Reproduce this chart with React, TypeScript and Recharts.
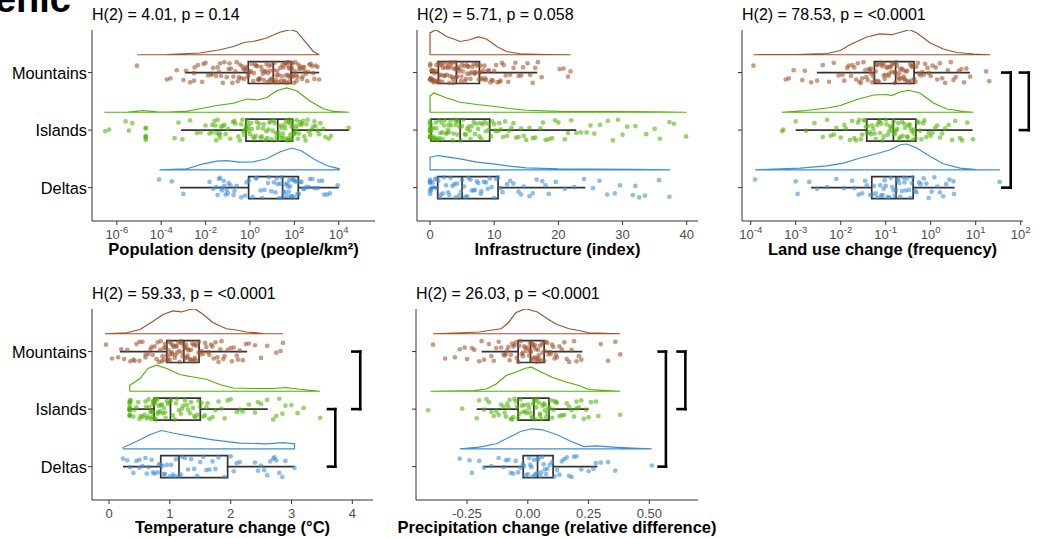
import React from 'react';
import { ComposedChart, XAxis, YAxis, Scatter, ReferenceArea, ReferenceLine } from 'recharts';

const FONT = '"Liberation Sans", Arial, Helvetica, sans-serif';

const groupNames = ['Mountains', 'Islands', 'Deltas'];
const groupRows = [3, 2, 1];
const groupColors = ['#A0522D', '#4DB400', '#3B8ED8'];

// hand-set jitter offsets (rows), reused for every group
const jitter = [0.12, -0.08, 0.03, -0.15, 0.17, -0.02, 0.09, -0.12, 0.06, -0.17, 0.14, -0.05, 0.01, 0.16, -0.1, 0.07, -0.14, 0.11, -0.04, 0.15, -0.18, 0.04, -0.07, 0.13, -0.11, 0.08, -0.01, 0.18, -0.13, 0.02, -0.16, 0.1, -0.06];

// ---- Population density ----
const popTicks = [1e-6, 1e-4, 1e-2, 1, 1e2, 1e4];
const popPoints = [
  [8e-6, 1.8e-4, 2.6e-4, 5e-4, 1e-3, 1.3e-3, 2e-3, 3e-3, 4.5e-3, 7e-3, 0.01, 0.013, 0.018, 0.022, 0.03, 0.035, 0.045, 0.06, 0.07, 0.09, 0.11, 0.14, 0.18, 0.22, 0.28, 0.35, 0.45, 0.55, 0.7, 0.85, 1, 1.2, 1.5, 1.9, 2.3, 2.8, 3.5, 4.2, 5, 6, 7.5, 9, 11, 13, 16, 19, 23, 27, 32, 38, 45, 52, 60, 68, 78, 90, 105, 125, 150, 180, 220, 270, 330, 420, 550, 700, 900, 1300, 0.4, 0.6, 2.5, 8, 14, 35, 48, 58, 75, 85, 120, 250, 0.05, 3.2e-3,
    0.12, 0.16, 0.25, 0.32, 0.5, 0.65, 0.8, 1.1, 1.4, 1.7, 2.1, 2.6, 3.2, 3.8, 4.6, 5.5, 6.5, 7, 8.5, 10, 12, 15, 17, 20, 25, 29, 34, 40, 42, 50, 55, 65, 72, 82, 95, 110, 140, 165, 200, 240, 300, 380, 480, 620, 800, 1100, 0.02, 0.04, 0.008, 0.003],
  [3e-7, 4.5e-7, 2.5e-6, 3.5e-6, 5e-6, 2e-5, 2e-5, 2e-5, 2e-5, 2e-5, 2e-5, 4e-4, 6e-4, 9e-4, 2e-3, 4e-3, 6e-3, 0.01, 0.015, 0.02, 0.025, 0.03, 0.035, 0.04, 0.05, 0.06, 0.08, 0.1, 0.13, 0.17, 0.22, 0.3, 0.4, 0.5, 0.6, 0.75, 0.9, 1.1, 1.4, 1.8, 2.3, 3, 3.8, 4.8, 6, 7.5, 9.5, 12, 15, 19, 24, 30, 36, 42, 50, 58, 66, 75, 85, 100, 120, 145, 180, 220, 280, 350, 450, 600, 800, 1100, 1500, 2500, 4500, 2.8e4, 0.045, 0.7, 17, 27, 55, 70, 130, 0.032,
    0.02, 0.028, 0.045, 0.07, 0.2, 0.35, 0.45, 0.55, 0.65, 0.85, 1, 1.2, 1.6, 2, 2.6, 3.4, 4.2, 5.5, 6.8, 8.5, 10.5, 13, 16, 21, 26, 33, 38, 45, 53, 62, 70, 80, 95, 110, 130, 160, 200, 250, 320, 400, 520, 700, 900, 1300, 2000, 3500],
  [8e-5, 3e-4, 1e-3, 0.015, 0.022, 0.03, 0.04, 0.05, 0.065, 0.08, 0.1, 0.13, 0.18, 0.25, 0.4, 0.6, 0.9, 1.3, 2, 3, 4.5, 6.5, 9, 12, 16, 21, 27, 33, 40, 48, 56, 65, 75, 90, 110, 140, 180, 250, 350, 500, 800, 1300, 2200, 4000, 9000, 0.035, 0.07, 30, 45, 60, 100,
    0.045, 0.055, 0.09, 0.11, 0.2, 0.7, 1.8, 3.5, 7, 14, 18, 24, 36, 52, 70, 85, 120, 160, 210, 280, 450, 650, 1100, 1800, 3000],
];
const popDensity = [
  [[8.3e-6, 0], [1.8e-4, 0.01], [5.6e-3, 0.07], [0.045, 0.2], [0.18, 0.33], [0.59, 0.5], [1.4, 0.53], [5.6, 0.67], [22, 0.9], [63, 1.0], [126, 0.93], [300, 0.53], [710, 0.13], [1320, 0]],
  [[2.75e-7, 0], [3.2e-6, 0.01], [1.6e-5, 0.07], [6.3e-5, 0.02], [1.8e-4, 0.01], [1.4e-3, 0.04], [5.6e-3, 0.14], [0.032, 0.27], [0.18, 0.36], [0.71, 0.53], [2, 0.49], [5.6, 0.58], [16, 0.86], [45, 0.97], [126, 0.86], [500, 0.45], [2000, 0.14], [5600, 0.04], [2.95e4, 0]],
  [[8.3e-5, 0], [1.4e-3, 0.04], [7.9e-3, 0.24], [0.032, 0.35], [0.089, 0.37], [0.35, 0.31], [1.4, 0.32], [5.6, 0.44], [22, 0.71], [76, 0.87], [214, 0.75], [710, 0.44], [2800, 0.17], [1.05e4, 0.04], [1.05e4, 0]],
];
const popBoxes = [
  [1.17e-3, 0.84, 11.2, 71, 1320],
  [7.8e-4, 0.66, 17.8, 83, 2.95e4],
  [7.1e-4, 0.87, 29.5, 151, 1.02e4],
];

// ---- Infrastructure ----
const infTicks = [0, 10, 20, 30, 40];
const infPoints = [
  [0, 0, 0.1, 0.2, 0.3, 0.5, 0.6, 0.8, 1, 1.1, 1.3, 1.5, 1.7, 2, 2.2, 2.4, 2.7, 3, 3.2, 3.5, 3.8, 4, 4.2, 4.5, 4.8, 5, 5.3, 5.6, 6, 6.2, 6.5, 6.8, 7, 7.3, 7.6, 8, 8.3, 8.7, 9, 9.4, 9.8, 10.3, 10.8, 11.2, 11.8, 12.5, 13, 13.8, 14.5, 15.2, 16, 16.8, 17.4, 20.2, 20.8, 21.5, 21.9, 0.4, 1.8, 2.9, 3.6, 4.4, 5.8, 7.8, 0.05, 0.7, 8.5,
    0, 0.15, 0.35, 0.55, 0.9, 1.2, 1.4, 1.6, 1.9, 2.1, 2.3, 2.6, 2.8, 3.1, 3.3, 3.4, 3.7, 3.9, 4.1, 4.3, 4.6, 4.9, 5.1, 5.4, 5.7, 5.9, 6.3, 6.6, 6.9, 7.1, 7.4, 7.7, 7.9, 8.2, 8.6, 9.2, 9.6, 10, 10.5, 11, 11.5, 12.2, 13.3, 14.2, 15.6, 16.4],
  [0, 0, 0, 0, 0, 0, 0.3, 0.5, 0.8, 1, 1.2, 1.5, 1.8, 2, 2.3, 2.6, 3, 3.3, 3.7, 4, 4.4, 4.8, 5.2, 5.6, 6, 6.5, 7, 7.5, 8, 8.5, 9, 9.5, 10, 10.5, 11, 11.7, 12.3, 13, 13.8, 14.6, 15.5, 16.4, 17.2, 18, 19, 20, 21, 22, 22.8, 24.4, 25, 25.6, 26.5, 27.7, 28.5, 29.3, 30, 30.7, 32, 33.7, 35, 35.8, 37.3, 38, 39.9, 0.1, 0.2, 2.8, 4.2, 6.2, 7.8,
    0, 0, 0, 0, 0.15, 0.4, 0.6, 0.9, 1.1, 1.4, 1.6, 1.9, 2.2, 2.5, 2.9, 3.2, 3.5, 3.9, 4.3, 4.6, 5, 5.4, 5.8, 6.3, 6.8, 7.2, 7.7, 8.2, 8.7, 9.2, 9.7, 10.2, 10.8, 11.4, 12, 12.7, 13.4, 14.2, 15, 16, 17.6, 18.5, 19.5, 21.5, 23.5],
  [0, 0, 0, 0, 0.2, 0.5, 0.8, 1, 1.3, 1.7, 2, 2.5, 3, 3.5, 4, 4.5, 5, 5.5, 6, 6.5, 7, 7.5, 8, 8.7, 9.3, 10, 10.6, 11.3, 12, 13, 13.8, 14.6, 15.5, 16.6, 17.5, 18.5, 19.6, 21, 22.5, 24, 25.4, 26.4, 27.6, 28.8, 29.6, 31.6, 32, 32.6, 33.5, 35.7, 37.3, 3.2, 6.8,
    0, 0, 0.1, 0.4, 1.1, 1.5, 2.2, 2.8, 3.8, 4.2, 4.8, 5.3, 5.8, 6.3, 7.3, 7.9, 8.4, 9, 9.6, 10.3, 11, 12.5, 14.2, 16, 18],
];
const infDensity = [
  [[0, 0], [0, 0.87], [0.9, 1.0], [2.6, 0.73], [4.7, 0.53], [6.2, 0.6], [7.5, 0.71], [8.8, 0.63], [10.4, 0.33], [11.9, 0.13], [14, 0.04], [18, 0.01], [21.9, 0]],
  [[0, 0], [0, 0.65], [0.6, 0.77], [2.6, 0.57], [4.7, 0.4], [7.3, 0.31], [9.8, 0.24], [12.4, 0.15], [15, 0.08], [20, 0.04], [28, 0.025], [35, 0.015], [40, 0]],
  [[0, 0], [0, 0.5], [1.3, 0.57], [4.7, 0.44], [7.3, 0.31], [9.8, 0.24], [12.4, 0.15], [15, 0.08], [20, 0.04], [25, 0.03], [32, 0.02], [37.4, 0]],
];
const infBoxes = [
  [0, 1.3, 4.1, 7.7, 16.7],
  [0, 0.15, 4.7, 9.3, 22.8],
  [0, 1.2, 5.0, 10.6, 24.2],
];

// ---- Land use change ----
const lucTicks = [1e-4, 1e-3, 1e-2, 1e-1, 1, 10, 100];
const lucPoints = [
  [1.15e-4, 6e-4, 7e-4, 9e-4, 1.4e-3, 1.6e-3, 2.2e-3, 3e-3, 4e-3, 5.5e-3, 7e-3, 9e-3, 0.011, 0.014, 0.017, 0.02, 0.024, 0.028, 0.032, 0.037, 0.042, 0.047, 0.053, 0.06, 0.067, 0.075, 0.085, 0.095, 0.11, 0.12, 0.135, 0.15, 0.165, 0.18, 0.2, 0.22, 0.245, 0.27, 0.3, 0.33, 0.37, 0.41, 0.46, 0.52, 0.6, 0.7, 0.85, 1, 1.3, 1.6, 2.1, 2.8, 3.6, 4.8, 6.2, 7.5, 17, 20, 0.064, 0.13, 0.26, 0.38, 0.048, 0.155, 0.09, 0.2,
    0.015, 0.022, 0.03, 0.035, 0.04, 0.045, 0.05, 0.058, 0.063, 0.07, 0.08, 0.09, 0.1, 0.105, 0.115, 0.125, 0.14, 0.16, 0.17, 0.19, 0.21, 0.23, 0.25, 0.28, 0.31, 0.35, 0.39, 0.43, 0.48, 0.55, 0.65, 0.75, 0.9, 1.1, 1.4, 1.8, 2.4, 3.2, 4.2, 5.5, 0.012, 0.018, 0.026],
  [5e-4, 5.3e-4, 1e-3, 1.7e-3, 2.6e-3, 4e-3, 6e-3, 8e-3, 0.01, 0.013, 0.016, 0.02, 0.024, 0.028, 0.033, 0.038, 0.044, 0.05, 0.057, 0.065, 0.075, 0.085, 0.1, 0.11, 0.125, 0.14, 0.16, 0.18, 0.2, 0.23, 0.26, 0.3, 0.34, 0.38, 0.43, 0.5, 0.58, 0.68, 0.8, 1, 1.25, 1.6, 2.1, 3, 4.5, 6.5, 8.7, 0.035, 0.075, 0.15, 0.32, 0.42,
    0.012, 0.018, 0.022, 0.026, 0.03, 0.036, 0.04, 0.047, 0.053, 0.06, 0.07, 0.08, 0.09, 0.105, 0.12, 0.135, 0.15, 0.17, 0.19, 0.21, 0.24, 0.27, 0.31, 0.36, 0.4, 0.46, 0.54, 0.62, 0.72, 0.9, 1.1, 1.4, 1.8, 2.5, 3.5, 5, 0.005, 0.007],
  [1.25e-4, 1e-3, 1.1e-3, 2e-3, 3e-3, 5e-3, 8e-3, 0.012, 0.018, 0.025, 0.03, 0.038, 0.045, 0.055, 0.065, 0.08, 0.095, 0.11, 0.13, 0.15, 0.17, 0.2, 0.23, 0.26, 0.3, 0.35, 0.4, 0.48, 0.6, 0.8, 1.05, 1.4, 1.9, 2.6, 3.2, 3.3, 34, 0.09, 0.14, 0.19,
    0.02, 0.035, 0.05, 0.06, 0.075, 0.085, 0.1, 0.12, 0.16, 0.18, 0.21, 0.25, 0.28, 0.33, 0.38, 0.45, 0.55, 0.7, 0.9, 1.2, 1.6, 2.2],
];
const lucDensity = [
  [[1.15e-4, 0], [1e-3, 0.01], [5e-3, 0.05], [9.8e-3, 0.17], [0.016, 0.4], [0.038, 0.71], [0.074, 0.83], [0.135, 0.8], [0.245, 0.93], [0.34, 1.0], [0.49, 0.87], [0.98, 0.47], [1.9, 0.23], [3.8, 0.09], [8.9, 0.03], [20.9, 0]],
  [[4.9e-4, 0], [1.74e-3, 0.07], [4.9e-3, 0.17], [9.8e-3, 0.27], [0.023, 0.51], [0.054, 0.69], [0.105, 0.71], [0.135, 0.67], [0.21, 0.81], [0.32, 0.88], [0.575, 0.77], [1.15, 0.37], [2.3, 0.13], [5.4, 0.03], [8.9, 0]],
  [[1.26e-4, 0], [1.26e-3, 0.07], [4.9e-3, 0.16], [0.0115, 0.27], [0.027, 0.47], [0.063, 0.64], [0.126, 0.8], [0.21, 1.0], [0.295, 1.03], [0.49, 0.87], [0.98, 0.53], [1.9, 0.24], [4.5, 0.07], [10.5, 0.01], [34.7, 0]],
];
const lucBoxes = [
  [2.95e-3, 0.056, 0.166, 0.427, 7.4],
  [1e-3, 0.038, 0.148, 0.468, 8.5],
  [2.2e-3, 0.049, 0.17, 0.407, 3.4],
];
const lucBrackets = [
  { from: 0, to: 2, x0: 39, x1: 60 },
  { from: 0, to: 1, x0: 96, x1: 151 },
];

// ---- Temperature change ----
const tmpTicks = [0, 1, 2, 3, 4];
const tmpPoints = [
  [-0.05, 0.05, 0.15, 0.2, 0.25, 0.3, 0.35, 0.4, 0.45, 0.5, 0.55, 0.6, 0.65, 0.7, 0.72, 0.75, 0.8, 0.82, 0.85, 0.88, 0.9, 0.93, 0.95, 0.98, 1, 1.02, 1.05, 1.08, 1.1, 1.12, 1.15, 1.18, 1.2, 1.22, 1.25, 1.28, 1.3, 1.33, 1.35, 1.38, 1.4, 1.42, 1.45, 1.48, 1.5, 1.55, 1.6, 1.65, 1.7, 1.75, 1.8, 1.85, 1.9, 2, 2.05, 2.1, 2.15, 2.2, 2.3, 2.4, 2.5, 2.6, 2.75, 2.82, 2.86, 1.03, 1.27, 0.97,
    0.6, 0.68, 0.78, 0.84, 0.87, 0.9, 0.92, 0.96, 0.99, 1.01, 1.04, 1.06, 1.09, 1.11, 1.14, 1.16, 1.19, 1.21, 1.24, 1.26, 1.29, 1.31, 1.34, 1.37, 1.39, 1.41, 1.44, 1.47, 1.52, 1.58, 1.63, 1.68, 1.72, 1.78, 1.83, 1.88, 1.95, 2.02, 2.12, 2.25, 0.42, 0.5],
  [0.34, 0.34, 0.34, 0.34, 0.34, 0.34, 0.34, 0.34, 0.4, 0.45, 0.5, 0.55, 0.6, 0.62, 0.65, 0.68, 0.7, 0.72, 0.72, 0.74, 0.75, 0.77, 0.78, 0.8, 0.82, 0.85, 0.88, 0.9, 0.93, 0.95, 1, 1.05, 1.1, 1.15, 1.2, 1.25, 1.3, 1.35, 1.4, 1.45, 1.5, 1.55, 1.6, 1.65, 1.7, 1.8, 1.9, 2, 2.1, 2.2, 2.3, 2.4, 2.5, 2.6, 2.7, 2.8, 2.85, 2.9, 3.0, 3.1, 3.2, 3.47, 0.73, 0.76,
    0.34, 0.34, 0.34, 0.34, 0.36, 0.42, 0.48, 0.52, 0.58, 0.61, 0.64, 0.66, 0.69, 0.71, 0.73, 0.75, 0.79, 0.81, 0.84, 0.87, 0.92, 0.97, 1.02, 1.08, 1.12, 1.18, 1.22, 1.28, 1.33, 1.38, 1.42, 1.47, 1.52, 1.58, 1.62, 1.75, 1.85, 1.95, 2.15, 2.45, 2.75],
  [0.23, 0.3, 0.4, 0.45, 0.5, 0.55, 0.6, 0.65, 0.7, 0.75, 0.8, 0.85, 0.9, 0.95, 1, 1.05, 1.1, 1.15, 1.2, 1.3, 1.4, 1.5, 1.6, 1.7, 1.8, 1.9, 2, 2.05, 2.1, 2.4, 2.45, 2.5, 2.6, 2.7, 2.75, 2.8, 2.9, 3.05, 0.88, 1.25,
    0.35, 0.5, 0.62, 0.72, 0.82, 0.92, 1.02, 1.08, 1.18, 1.35, 1.45, 1.55, 1.65, 1.75, 2.15, 2.55, 2.65, 2.72, 2.85],
];
const tmpDensity = [
  [[-0.07, 0], [0.29, 0.04], [0.51, 0.17], [0.73, 0.51], [0.89, 0.77], [1.05, 0.91], [1.19, 0.87], [1.3, 0.95], [1.41, 1.0], [1.55, 0.77], [1.71, 0.44], [1.93, 0.2], [2.09, 0.15], [2.26, 0.07], [2.53, 0.01], [2.86, 0]],
  [[0.34, 0], [0.34, 0.24], [0.51, 0.51], [0.64, 0.91], [0.78, 1.04], [0.95, 0.91], [1.16, 0.67], [1.38, 0.57], [1.6, 0.48], [1.82, 0.27], [2.04, 0.13], [2.37, 0.11], [2.69, 0.11], [2.91, 0.15], [3.13, 0.08], [3.47, 0]],
  [[0.23, 0], [0.23, 0.05], [0.45, 0.29], [0.67, 0.56], [0.86, 0.73], [1.05, 0.63], [1.38, 0.49], [1.71, 0.36], [2.15, 0.23], [2.58, 0.2], [2.86, 0.25], [3.05, 0.2], [3.05, 0]],
];
const tmpBoxes = [
  [0.18, 0.95, 1.23, 1.48, 2.27],
  [0.34, 0.74, 1.01, 1.5, 2.61],
  [0.23, 0.85, 1.15, 1.95, 3.05],
];
const tmpBrackets = [
  { from: 0, to: 1, x0: 4.0, x1: 4.13 },
  { from: 1, to: 2, x0: 3.6, x1: 3.72 },
];

// ---- Precipitation change ----
const preTicks = [-0.25, 0, 0.25, 0.5];
const prePoints = [
  [-0.39, -0.34, -0.3, -0.28, -0.25, -0.22, -0.2, -0.18, -0.16, -0.14, -0.12, -0.1, -0.09, -0.08, -0.07, -0.06, -0.05, -0.04, -0.03, -0.02, -0.01, 0, 0.005, 0.01, 0.015, 0.02, 0.03, 0.04, 0.05, 0.06, 0.07, 0.08, 0.09, 0.1, 0.11, 0.12, 0.14, 0.16, 0.18, 0.2, 0.22, 0.3, 0.33, 0.36, 0.38, -0.025, 0.025, 0.045, -0.015, 0.065, 0.035,
    -0.19, -0.15, -0.13, -0.11, -0.095, -0.085, -0.075, -0.065, -0.055, -0.045, -0.035, -0.02, -0.005, 0.008, 0.012, 0.018, 0.022, 0.028, 0.033, 0.038, 0.042, 0.048, 0.052, 0.058, 0.068, 0.075, 0.085, 0.095, 0.105, 0.115, 0.13, 0.15, 0.17, 0.19, 0.21, -0.23, -0.26],
  [-0.41, -0.27, -0.2, -0.18, -0.16, -0.14, -0.12, -0.1, -0.09, -0.08, -0.07, -0.06, -0.05, -0.04, -0.03, -0.02, -0.01, 0, 0.01, 0.02, 0.025, 0.03, 0.04, 0.05, 0.06, 0.07, 0.08, 0.09, 0.1, 0.11, 0.12, 0.14, 0.16, 0.18, 0.2, 0.22, 0.24, 0.26, 0.29, 0.38, -0.045, 0.015, 0.035, 0.055, 0.075, 0.2,
    -0.21, -0.17, -0.15, -0.13, -0.11, -0.095, -0.085, -0.075, -0.065, -0.055, -0.035, -0.025, -0.015, -0.005, 0.005, 0.02, 0.03, 0.045, 0.05, 0.065, 0.07, 0.085, 0.095, 0.105, 0.115, 0.13, 0.15, 0.17, 0.19, 0.21, 0.23, 0.25, 0.28],
  [-0.28, -0.24, -0.23, -0.2, -0.18, -0.15, -0.12, -0.1, -0.08, -0.06, -0.04, -0.02, 0, 0.01, 0.02, 0.03, 0.04, 0.05, 0.06, 0.07, 0.08, 0.1, 0.12, 0.14, 0.16, 0.18, 0.2, 0.25, 0.28, 0.3, 0.36, 0.51, -0.01, 0.045,
    -0.09, -0.07, -0.05, -0.03, -0.015, 0.005, 0.015, 0.025, 0.035, 0.055, 0.065, 0.075, 0.09, 0.11, 0.13, 0.15, 0.17, 0.19, 0.22, 0.27, 0.33],
];
const preDensity = [
  [[-0.39, 0], [-0.27, 0.04], [-0.2, 0.07], [-0.16, 0.13], [-0.11, 0.2], [-0.08, 0.44], [-0.05, 0.84], [-0.01, 1.0], [0.04, 0.87], [0.08, 0.6], [0.12, 0.37], [0.17, 0.2], [0.21, 0.13], [0.25, 0.04], [0.38, 0]],
  [[-0.4, 0], [-0.22, 0.03], [-0.17, 0.09], [-0.13, 0.29], [-0.09, 0.63], [-0.05, 0.76], [-0.01, 0.92], [0.015, 0.96], [0.05, 0.79], [0.1, 0.56], [0.16, 0.36], [0.21, 0.23], [0.25, 0.07], [0.38, 0]],
  [[-0.28, 0], [-0.2, 0.07], [-0.13, 0.2], [-0.07, 0.49], [-0.03, 0.69], [0.015, 0.8], [0.06, 0.76], [0.12, 0.56], [0.17, 0.33], [0.23, 0.09], [0.28, 0.12], [0.35, 0.07], [0.43, 0.03], [0.51, 0]],
];
const preBoxes = [
  [-0.19, -0.04, 0.011, 0.067, 0.224],
  [-0.21, -0.04, 0.025, 0.087, 0.25],
  [-0.183, -0.019, 0.04, 0.104, 0.286],
];
const preBrackets = [
  { from: 0, to: 2, x0: 0.538, x1: 0.568 },
  { from: 0, to: 1, x0: 0.616, x1: 0.648 },
];

type Bracket = { from: number; to: number; x0: number; x1: number };
type PanelDef = {
  left: number;
  top: number;
  plotW: number;
  plotH: number;
  domain: [number, number];
  log: boolean;
  ticks: number[];
  fmt: (v: number) => string;
  points: number[][];
  density: number[][][];
  boxes: number[][];
  brackets: Bracket[];
  title: string;
  xTitle: string;
  xTitleTop: number;
  yLabels: boolean;
};

const panels: PanelDef[] = [
  { left: 92, top: 30, plotW: 283, plotH: 191, domain: [7.6e-8, 4.3e5], log: true, ticks: popTicks, fmt: String, points: popPoints, density: popDensity, boxes: popBoxes, brackets: [], title: 'H(2) = 4.01, p = 0.14', xTitle: 'Population density (people/km²)', xTitleTop: 241, yLabels: true },
  { left: 417, top: 30, plotW: 281, plotH: 191, domain: [-2.03, 41.76], log: false, ticks: infTicks, fmt: String, points: infPoints, density: infDensity, boxes: infBoxes, brackets: [], title: 'H(2) = 5.71, p = 0.058', xTitle: 'Infrastructure (index)', xTitleTop: 241, yLabels: false },
  { left: 742, top: 30, plotW: 281, plotH: 191, domain: [6.4e-5, 112.5], log: true, ticks: lucTicks, fmt: String, points: lucPoints, density: lucDensity, boxes: lucBoxes, brackets: lucBrackets, title: 'H(2) = 78.53, p = <0.0001', xTitle: 'Land use change (frequency)', xTitleTop: 241, yLabels: false },
  { left: 92, top: 309, plotW: 281, plotH: 191, domain: [-0.28, 4.34], log: false, ticks: tmpTicks, fmt: String, points: tmpPoints, density: tmpDensity, boxes: tmpBoxes, brackets: tmpBrackets, title: 'H(2) = 59.33, p = <0.0001', xTitle: 'Temperature change (°C)', xTitleTop: 519, yLabels: true },
  { left: 416, top: 309, plotW: 282, plotH: 191, domain: [-0.46, 0.7], log: false, ticks: preTicks, fmt: (v) => v.toFixed(2), points: prePoints, density: preDensity, boxes: preBoxes, brackets: preBrackets, title: 'H(2) = 26.03, p = <0.0001', xTitle: 'Precipitation change (relative difference)', xTitleTop: 519, yLabels: false },
];

const AXIS = '#333333';
const BOX = '#333333';

function XTick({ x, y, payload, log, fmt }: any) {
  const v = payload.value;
  if (log) {
    const e = Math.round(Math.log10(v));
    return (
      <text x={x} y={y + 12} textAnchor="middle" fill="#4D4D4D" fontSize={13} fontFamily={FONT}>
        <tspan>10</tspan>
        <tspan dy={-6} fontSize={9.5}>{e}</tspan>
      </text>
    );
  }
  return (
    <text x={x} y={y + 12} textAnchor="middle" fill="#4D4D4D" fontSize={13} fontFamily={FONT}>
      {fmt(v)}
    </text>
  );
}

function YTick({ x, y, payload, show }: any) {
  if (!show) return <g />;
  const name = groupNames[groupRows.indexOf(payload.value)];
  return (
    <text x={x} y={y + 6} textAnchor="end" fill="#000" fontSize={16.3} fontFamily={FONT}>
      {name}
    </text>
  );
}

function Panel({ def }: { def: PanelDef }) {
  const mr = 16;
  const W = 92 + def.plotW + mr;
  const H = 30 + def.plotH + 40;
  const half = 0.19;
  return (
    <>
      <div style={{ position: 'absolute', left: def.left, top: def.top - 23, fontSize: 16, lineHeight: '16px', whiteSpace: 'nowrap', color: '#000' }}>
        {def.title}
      </div>
      <div style={{ position: 'absolute', left: def.left - 92, top: def.top - 30 }}>
        <ComposedChart width={W} height={H} margin={{ top: 30, right: mr, bottom: 0, left: 0 }}>
          <XAxis
            type="number"
            dataKey="x"
            scale={def.log ? 'log' : 'linear'}
            domain={def.domain}
            allowDataOverflow
            ticks={def.ticks}
            interval={0}
            height={40}
            tickSize={4}
            tickMargin={2}
            axisLine={{ stroke: AXIS, strokeWidth: 1 }}
            tickLine={{ stroke: AXIS }}
            tick={(p: any) => <XTick {...p} log={def.log} fmt={def.fmt} />}
          />
          <YAxis
            type="number"
            dataKey="y"
            domain={[0.42, 3.74]}
            allowDataOverflow
            ticks={[1, 2, 3]}
            interval={0}
            width={92}
            tickSize={4}
            tickMargin={1}
            axisLine={{ stroke: AXIS, strokeWidth: 1 }}
            tickLine={{ stroke: AXIS }}
            tick={(p: any) => <YTick {...p} show={def.yLabels} />}
          />
          {def.density.map((dens, g) => {
            const base = groupRows[g] + 0.31;
            const pts = dens.map(([x, d]) => ({ x, y: base + d * 0.435 }));
            pts.push(pts[0]);
            return (
              <Scatter
                key={'d' + g}
                data={pts}
                line={{ stroke: groupColors[g], strokeWidth: 1.2 }}
                lineJointType="linear"
                shape={() => <g />}
                isAnimationActive={false}
              />
            );
          })}
          {def.points.map((vals, g) => {
            const pts = vals.map((v, i) => ({ x: v, y: groupRows[g] + jitter[(i * 7 + g * 5) % jitter.length] }));
            return (
              <Scatter
                key={'p' + g}
                data={pts}
                shape={(p: any) => <circle cx={p.cx} cy={p.cy} r={2.35} fill={groupColors[g]} fillOpacity={0.58} />}
                isAnimationActive={false}
              />
            );
          })}
          {def.boxes.map(([wl, q1, med, q3, wh], g) => {
            const r = groupRows[g];
            return (
              <React.Fragment key={'b' + g}>
                <ReferenceLine segment={[{ x: wl, y: r }, { x: q1, y: r }]} stroke={BOX} strokeWidth={1.7} />
                <ReferenceLine segment={[{ x: q3, y: r }, { x: wh, y: r }]} stroke={BOX} strokeWidth={1.7} />
                <ReferenceArea x1={q1} x2={q3} y1={r - half} y2={r + half} fill="none" fillOpacity={0} stroke={BOX} strokeWidth={1.7} />
                <ReferenceLine segment={[{ x: med, y: r - half }, { x: med, y: r + half }]} stroke={BOX} strokeWidth={1.7} />
              </React.Fragment>
            );
          })}
          {def.brackets.map((b, k) => {
            const ya = groupRows[b.from];
            const yb = groupRows[b.to];
            return (
              <React.Fragment key={'k' + k}>
                <ReferenceLine segment={[{ x: b.x0, y: ya }, { x: b.x1, y: ya }]} stroke="#000" strokeWidth={2.6} strokeLinecap="square" ifOverflow="visible" />
                <ReferenceLine segment={[{ x: b.x1, y: ya }, { x: b.x1, y: yb }]} stroke="#000" strokeWidth={2.6} strokeLinecap="square" ifOverflow="visible" />
                <ReferenceLine segment={[{ x: b.x0, y: yb }, { x: b.x1, y: yb }]} stroke="#000" strokeWidth={2.6} strokeLinecap="square" ifOverflow="visible" />
              </React.Fragment>
            );
          })}
        </ComposedChart>
      </div>
      <div style={{ position: 'absolute', left: def.left - 40, width: def.plotW + 80, top: def.xTitleTop, textAlign: 'center', fontSize: 16.5, fontWeight: 700, lineHeight: '16.5px', whiteSpace: 'nowrap', color: '#000' }}>
        {def.xTitle}
      </div>
    </>
  );
}

export default function App() {
  return (
    <div style={{ position: 'absolute', left: 0, top: 0, width: 1039, height: 538, overflow: 'hidden', background: '#fff', fontFamily: FONT }}>
      <div style={{ position: 'absolute', right: 1039 - 71, top: -20, fontSize: 38, fontWeight: 700, lineHeight: '38px', whiteSpace: 'nowrap', color: '#000' }}>
        Anthropogenic
      </div>
      {panels.map((d, i) => (
        <Panel key={i} def={d} />
      ))}
    </div>
  );
}
